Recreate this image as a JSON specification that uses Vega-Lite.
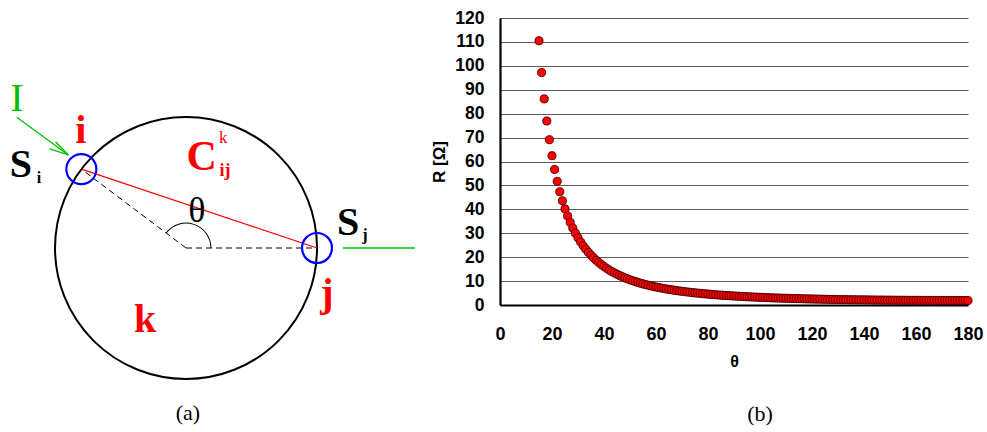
{
  "$schema": "https://vega.github.io/schema/vega-lite/v6.json",
  "width": 468,
  "height": 287,
  "autosize": "none",
  "padding": {"left": 500, "top": 18, "right": 19, "bottom": 127},
  "background": "white",
  "config": {"view": {"stroke": null}},
  "datasets": {
    "curve": [
      {"t":15,"r":110.49},{"t":16,"r":97.19},{"t":17,"r":86.16},{"t":18,"r":76.93},{"t":19,"r":69.11},{"t":20,"r":62.43},{"t":21,"r":56.68},{"t":22,"r":51.71},{"t":23,"r":47.36},{"t":24,"r":43.55},
      {"t":25,"r":40.18},{"t":26,"r":37.2},{"t":27,"r":34.54},{"t":28,"r":32.17},{"t":29,"r":30.03},{"t":30,"r":28.1},{"t":31,"r":26.36},{"t":32,"r":24.78},{"t":33,"r":23.34},{"t":34,"r":22.02},
      {"t":35,"r":20.82},{"t":36,"r":19.71},{"t":37,"r":18.7},{"t":38,"r":17.76},{"t":39,"r":16.89},{"t":40,"r":16.09},{"t":41,"r":15.35},{"t":42,"r":14.66},{"t":43,"r":14.01},{"t":44,"r":13.41},
      {"t":45,"r":12.85},{"t":46,"r":12.33},{"t":47,"r":11.84},{"t":48,"r":11.38},{"t":49,"r":10.95},{"t":50,"r":10.54},{"t":51,"r":10.16},{"t":52,"r":9.8},{"t":53,"r":9.46},{"t":54,"r":9.13},
      {"t":55,"r":8.83},{"t":56,"r":8.54},{"t":57,"r":8.27},{"t":58,"r":8.01},{"t":59,"r":7.76},{"t":60,"r":7.53},{"t":61,"r":7.31},{"t":62,"r":7.1},{"t":63,"r":6.9},{"t":64,"r":6.7},
      {"t":65,"r":6.52},{"t":66,"r":6.35},{"t":67,"r":6.18},{"t":68,"r":6.02},{"t":69,"r":5.87},{"t":70,"r":5.72},{"t":71,"r":5.58},{"t":72,"r":5.45},{"t":73,"r":5.32},{"t":74,"r":5.2},
      {"t":75,"r":5.08},{"t":76,"r":4.97},{"t":77,"r":4.86},{"t":78,"r":4.75},{"t":79,"r":4.65},{"t":80,"r":4.56},{"t":81,"r":4.46},{"t":82,"r":4.37},{"t":83,"r":4.29},{"t":84,"r":4.2},
      {"t":85,"r":4.12},{"t":86,"r":4.05},{"t":87,"r":3.97},{"t":88,"r":3.9},{"t":89,"r":3.83},{"t":90,"r":3.77},{"t":91,"r":3.7},{"t":92,"r":3.64},{"t":93,"r":3.58},{"t":94,"r":3.52},
      {"t":95,"r":3.46},{"t":96,"r":3.41},{"t":97,"r":3.36},{"t":98,"r":3.31},{"t":99,"r":3.26},{"t":100,"r":3.21},{"t":101,"r":3.16},{"t":102,"r":3.12},{"t":103,"r":3.07},{"t":104,"r":3.03},
      {"t":105,"r":2.99},{"t":106,"r":2.95},{"t":107,"r":2.91},{"t":108,"r":2.88},{"t":109,"r":2.84},{"t":110,"r":2.81},{"t":111,"r":2.77},{"t":112,"r":2.74},{"t":113,"r":2.71},{"t":114,"r":2.68},
      {"t":115,"r":2.65},{"t":116,"r":2.62},{"t":117,"r":2.59},{"t":118,"r":2.56},{"t":119,"r":2.54},{"t":120,"r":2.51},{"t":121,"r":2.49},{"t":122,"r":2.46},{"t":123,"r":2.44},{"t":124,"r":2.41},
      {"t":125,"r":2.39},{"t":126,"r":2.37},{"t":127,"r":2.35},{"t":128,"r":2.33},{"t":129,"r":2.31},{"t":130,"r":2.29},{"t":131,"r":2.27},{"t":132,"r":2.26},{"t":133,"r":2.24},{"t":134,"r":2.22},
      {"t":135,"r":2.21},{"t":136,"r":2.19},{"t":137,"r":2.17},{"t":138,"r":2.16},{"t":139,"r":2.15},{"t":140,"r":2.13},{"t":141,"r":2.12},{"t":142,"r":2.11},{"t":143,"r":2.09},{"t":144,"r":2.08},
      {"t":145,"r":2.07},{"t":146,"r":2.06},{"t":147,"r":2.05},{"t":148,"r":2.04},{"t":149,"r":2.03},{"t":150,"r":2.02},{"t":151,"r":2.01},{"t":152,"r":2.0},{"t":153,"r":1.99},{"t":154,"r":1.98},
      {"t":155,"r":1.98},{"t":156,"r":1.97},{"t":157,"r":1.96},{"t":158,"r":1.95},{"t":159,"r":1.95},{"t":160,"r":1.94},{"t":161,"r":1.94},{"t":162,"r":1.93},{"t":163,"r":1.92},{"t":164,"r":1.92},
      {"t":165,"r":1.92},{"t":166,"r":1.91},{"t":167,"r":1.91},{"t":168,"r":1.9},{"t":169,"r":1.9},{"t":170,"r":1.9},{"t":171,"r":1.89},{"t":172,"r":1.89},{"t":173,"r":1.89},{"t":174,"r":1.89},
      {"t":175,"r":1.89},{"t":176,"r":1.88},{"t":177,"r":1.88},{"t":178,"r":1.88},{"t":179,"r":1.88},{"t":180,"r":1.88}
    ],
    "bigCircle": [{"u":0,"v":0}],
    "nodes": [{"u":-0.799,"v":0.602},{"u":1,"v":0}],
    "radii": [{"u":0,"v":0,"u2":-0.799,"v2":0.602},{"u":0,"v":0,"u2":1,"v2":0}],
    "chord": [{"u":-0.799,"v":0.602,"u2":1,"v2":0}],
    "green": [
      {"u":-1.292,"v":0.998,"u2":-0.898,"v2":0.71},
      {"u":-0.996,"v":0.811,"u2":-0.898,"v2":0.71},
      {"u":-1.042,"v":0.756,"u2":-0.898,"v2":0.71},
      {"u":1.198,"v":0,"u2":1.748,"v2":0}
    ],
    "angle": [{"u":0,"v":0}],
    "tI": [{"u":-1.29,"v":1.046,"s":"I"}],
    "tRedBig": [{"u":-0.804,"v":0.804,"s":"i"},{"u":1.076,"v":-0.443,"s":"j"},{"u":-0.313,"v":-0.639,"s":"k"}],
    "tC": [{"u":0.12,"v":0.595,"s":"C"}],
    "tIJ": [{"u":0.298,"v":0.55,"s":"ij"}],
    "tK": [{"u":0.285,"v":0.799,"s":"k"}],
    "tS": [{"u":-1.26,"v":0.544,"s":"S"},{"u":1.237,"v":0.099,"s":"S"}],
    "tSub": [{"u":-1.122,"v":0.498,"s":"i"},{"u":1.366,"v":0.061,"s":"j"}],
    "tTheta": [{"u":0.082,"v":0.201,"s":"θ"}],
    "tPanel": [{"u":0.015,"v":-1.313,"s":"(a)"},{"u":4.382,"v":-1.321,"s":"(b)"}]
  },
  "layer": [
    {
      "data": {"name": "curve"},
      "mark": {"type": "circle", "size": 66, "fill": "#ff0000", "stroke": "#4a0000", "strokeWidth": 0.9, "opacity": 1},
      "encoding": {
        "x": {
          "field": "t", "type": "quantitative",
          "scale": {"domain": [0, 180], "nice": false},
          "axis": {
            "values": [0,20,40,60,80,100,120,140,160,180],
            "title": "θ", "grid": false, "ticks": false, "labelFlush": false,
            "domainColor": "#000000", "domainWidth": 2,
            "labelFont": "Liberation Sans", "labelFontWeight": "bold", "labelFontSize": 18, "labelColor": "#000000", "labelPadding": 20,
            "titleFont": "Liberation Sans", "titleFontWeight": "bold", "titleFontSize": 16, "titleColor": "#000000", "titlePadding": 10
          }
        },
        "y": {
          "field": "r", "type": "quantitative",
          "scale": {"domain": [0, 120], "nice": false},
          "axis": {
            "values": [0,10,20,30,40,50,60,70,80,90,100,110,120],
            "title": "R [Ω]", "grid": true, "gridColor": "#5a5a5a", "gridWidth": 1.2, "ticks": false, "labelFlush": false,
            "domainColor": "#000000", "domainWidth": 2.2,
            "labelFont": "Liberation Sans", "labelFontWeight": "bold", "labelFontSize": 17.5, "labelColor": "#000000", "labelPadding": 16,
            "titleFont": "Liberation Sans", "titleFontWeight": "bold", "titleFontSize": 17, "titleColor": "#000000", "titlePadding": 6
          }
        }
      }
    },
    {
      "encoding": {
        "x": {"field": "u", "type": "quantitative", "scale": {"domain": [2.3969, 5.9695], "nice": false, "zero": false}, "axis": null},
        "y": {"field": "v", "type": "quantitative", "scale": {"domain": [-0.4351, 1.7557], "nice": false, "zero": false}, "axis": null}
      },
      "layer": [
        {"data": {"name": "bigCircle"}, "mark": {"type": "point", "shape": "circle", "size": 68644, "filled": false, "stroke": "#000000", "strokeWidth": 2, "opacity": 1}},
        {"data": {"name": "radii"}, "mark": {"type": "rule", "stroke": "#000000", "strokeWidth": 1, "strokeDash": [6, 4]}, "encoding": {"x2": {"field": "u2"}, "y2": {"field": "v2"}}},
        {"data": {"name": "chord"}, "mark": {"type": "rule", "stroke": "#ff0000", "strokeWidth": 1.2}, "encoding": {"x2": {"field": "u2"}, "y2": {"field": "v2"}}},
        {"data": {"name": "green"}, "mark": {"type": "rule", "stroke": "#00c000", "strokeWidth": 1.3}, "encoding": {"x2": {"field": "u2"}, "y2": {"field": "v2"}}},
        {"data": {"name": "nodes"}, "mark": {"type": "point", "shape": "circle", "size": 900, "filled": false, "stroke": "#0000ff", "strokeWidth": 2.2, "opacity": 1}},
        {"data": {"name": "angle"}, "mark": {"type": "arc", "theta": -0.925, "theta2": 1.5708, "innerRadius": 24.4, "outerRadius": 25.4, "color": "#000000"}},
        {"data": {"name": "tI"}, "mark": {"type": "text", "font": "Liberation Serif", "fontSize": 40, "color": "#00c000", "align": "center", "baseline": "alphabetic"}, "encoding": {"text": {"field": "s"}}},
        {"data": {"name": "tRedBig"}, "mark": {"type": "text", "font": "Liberation Serif", "fontWeight": "bold", "fontSize": 40, "color": "#ff0000", "align": "center", "baseline": "alphabetic"}, "encoding": {"text": {"field": "s"}}},
        {"data": {"name": "tC"}, "mark": {"type": "text", "font": "Liberation Serif", "fontWeight": "bold", "fontSize": 42, "color": "#ff0000", "align": "center", "baseline": "alphabetic"}, "encoding": {"text": {"field": "s"}}},
        {"data": {"name": "tIJ"}, "mark": {"type": "text", "font": "Liberation Serif", "fontWeight": "bold", "fontSize": 18, "color": "#ff0000", "align": "center", "baseline": "alphabetic"}, "encoding": {"text": {"field": "s"}}},
        {"data": {"name": "tK"}, "mark": {"type": "text", "font": "Liberation Serif", "fontSize": 17, "color": "#ff0000", "align": "center", "baseline": "alphabetic"}, "encoding": {"text": {"field": "s"}}},
        {"data": {"name": "tS"}, "mark": {"type": "text", "font": "Liberation Serif", "fontWeight": "bold", "fontSize": 40, "color": "#000000", "align": "center", "baseline": "alphabetic"}, "encoding": {"text": {"field": "s"}}},
        {"data": {"name": "tSub"}, "mark": {"type": "text", "font": "Liberation Serif", "fontWeight": "bold", "fontSize": 16, "color": "#000000", "align": "center", "baseline": "alphabetic"}, "encoding": {"text": {"field": "s"}}},
        {"data": {"name": "tTheta"}, "mark": {"type": "text", "font": "Liberation Serif", "fontSize": 36, "color": "#000000", "align": "center", "baseline": "alphabetic"}, "encoding": {"text": {"field": "s"}}},
        {"data": {"name": "tPanel"}, "mark": {"type": "text", "font": "Liberation Serif", "fontSize": 22, "color": "#000000", "align": "center", "baseline": "alphabetic"}, "encoding": {"text": {"field": "s"}}}
      ]
    }
  ],
  "resolve": {"scale": {"x": "independent", "y": "independent"}}
}
